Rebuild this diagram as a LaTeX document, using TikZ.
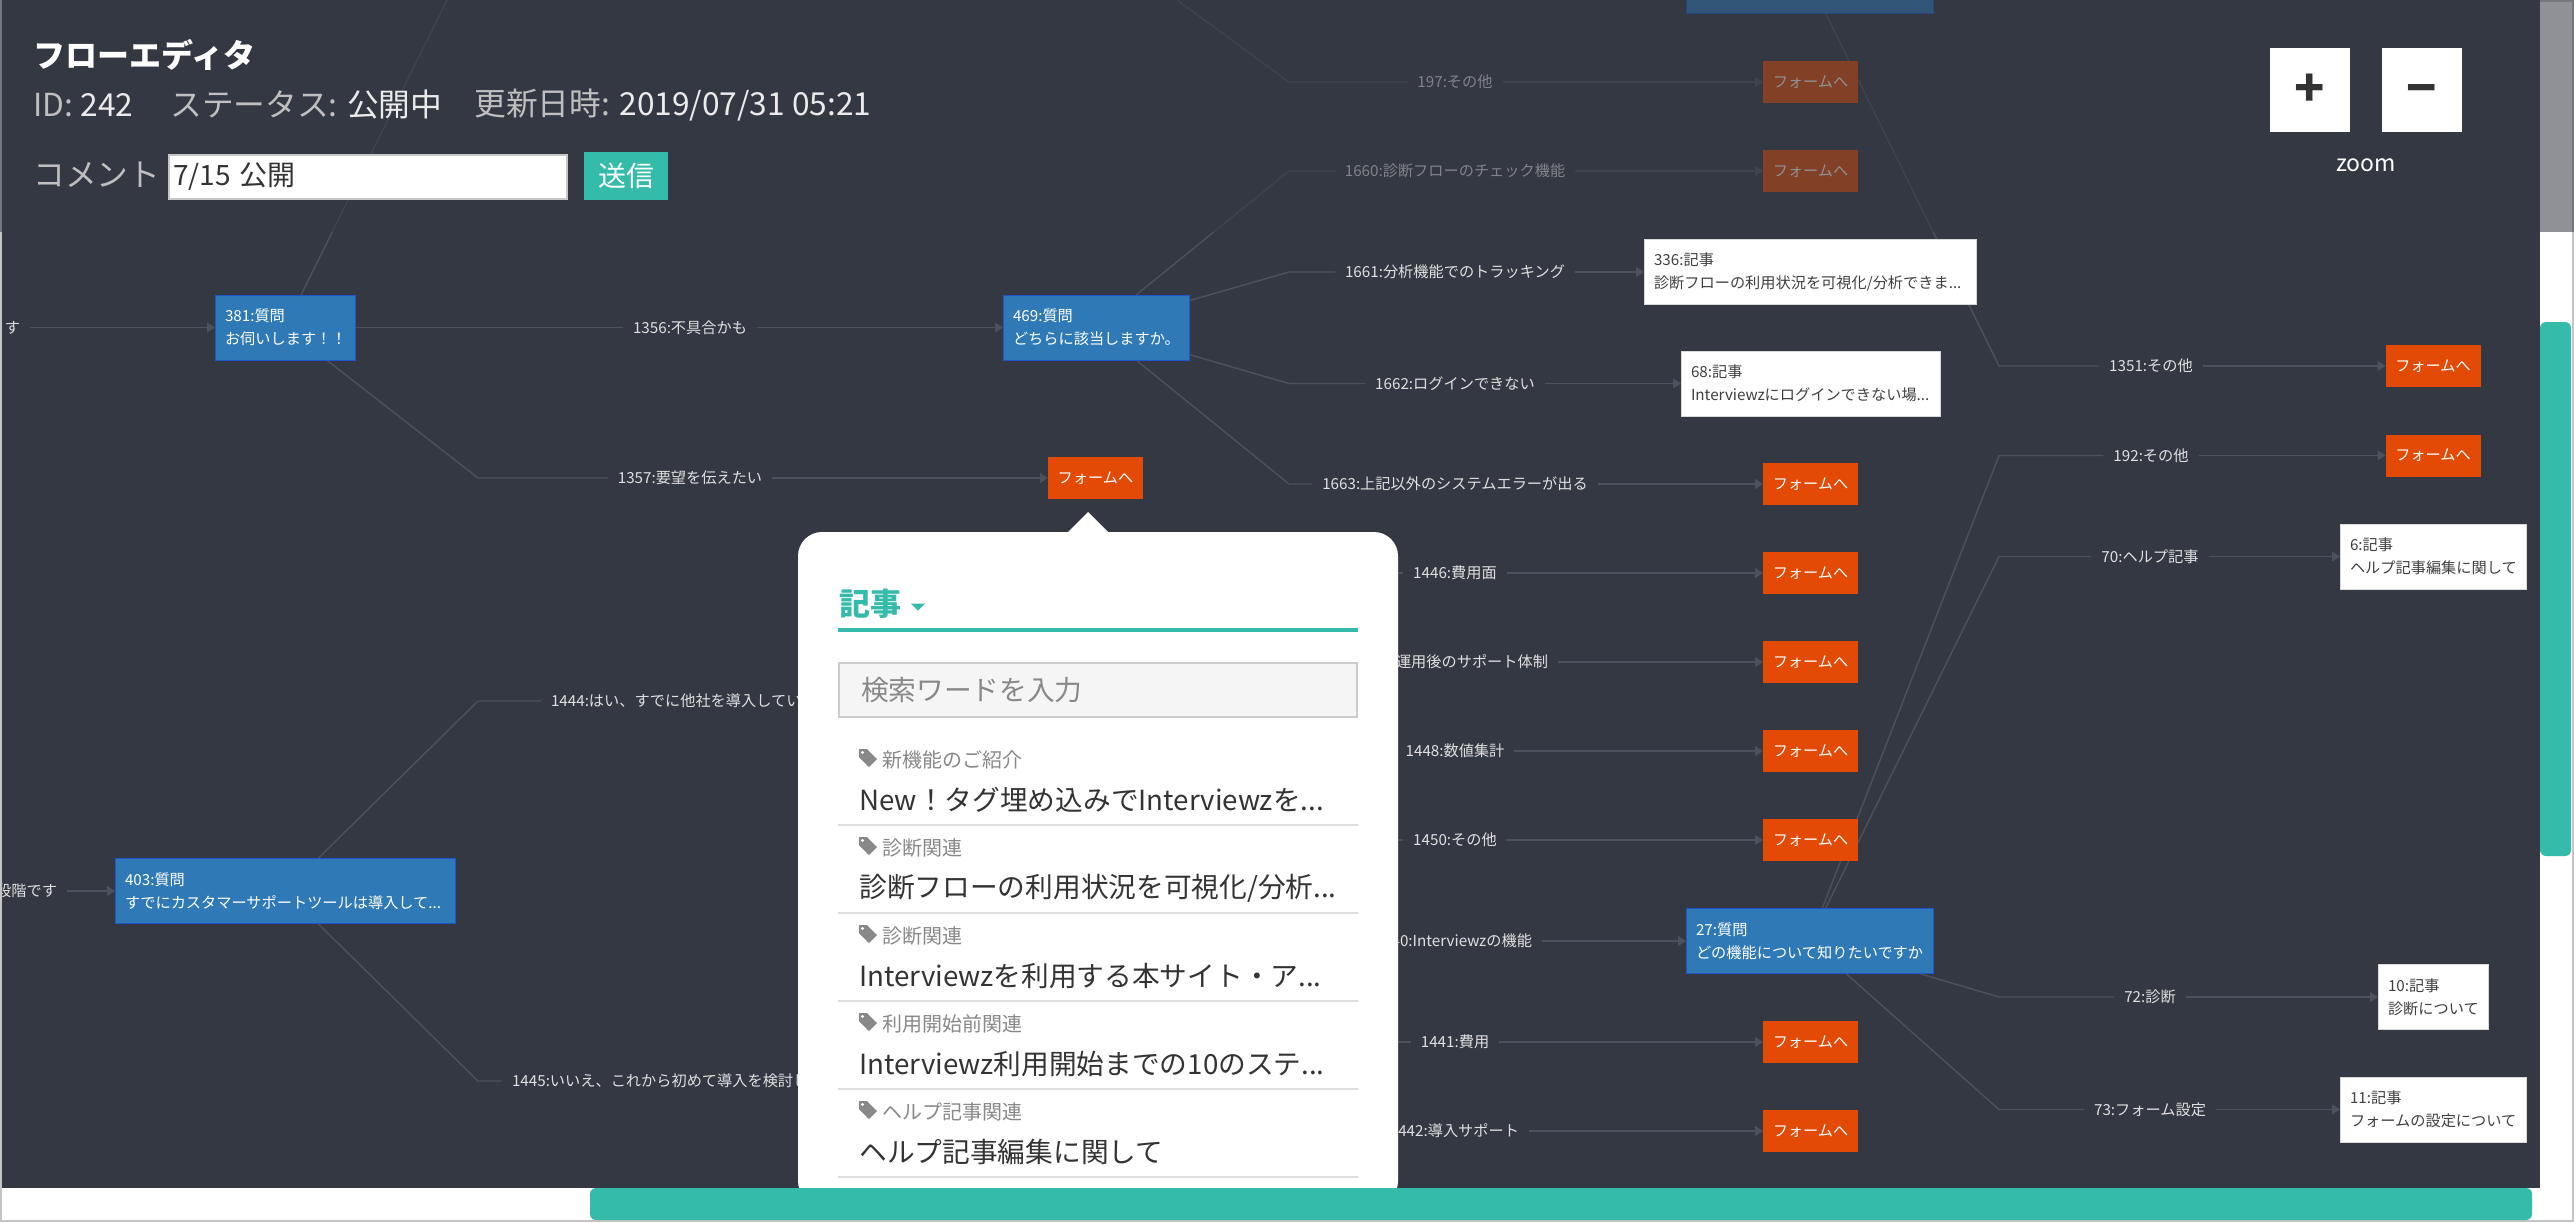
\documentclass[tikz,border=0pt]{standalone}
\usepackage{fontspec}
\setmainfont{Noto Sans CJK JP}
\usetikzlibrary{arrows.meta,backgrounds}
\definecolor{panelcol}{HTML}{343842}
\definecolor{linecol}{HTML}{4D515D}
\definecolor{tealcol}{HTML}{35BBAA}
\definecolor{bluecol}{HTML}{2E79B6}
\definecolor{orangecol}{HTML}{E34A05}
\definecolor{graycol}{HTML}{888888}
\tikzset{
    smallfont/.style={font=\fontsize{7.6}{11.5}\selectfont},
    flowline/.style={draw=linecol, line width=0.7pt},
    flowarrow/.style={flowline, -{Triangle[length=4pt,width=5pt]}},
    edgelabel/.style={smallfont, text=white!88!black, inner xsep=5pt, inner ysep=2pt, outer sep=0pt},
    qnode/.style={smallfont, fill=bluecol, draw=blue!30!bluecol, line width=0.4pt, text=white, align=left,
        inner xsep=5pt, inner ysep=0pt, outer sep=0pt, minimum height=32.5pt, text width=#1},
    anode/.style={smallfont, fill=white, draw=white!85!black, line width=0.4pt, text=black!75, align=left,
        inner xsep=5pt, inner ysep=0pt, outer sep=0pt, minimum height=32.5pt, text width=#1},
    fnode/.style={smallfont, fill=orangecol, text=white, inner sep=0pt, outer sep=0pt,
        minimum width=47.5pt, minimum height=21pt},
    headtext/.style={font=\fontsize{15.85}{18}\selectfont, inner sep=0pt, anchor=west},
    zoombtn/.style={fill=white, text=black!80, inner sep=0pt, minimum width=40pt, minimum height=42pt,
        font=\fontsize{25}{25}\bfseries\selectfont},
    cattext/.style={font=\fontsize{10}{12}\selectfont, text=graycol, inner sep=0pt, anchor=west},
    titletext/.style={font=\fontsize{13.85}{16}\selectfont, text=black!80, inner sep=0pt, anchor=west},
    sepline/.style={draw=white!87!black, line width=1pt},
    tagicon/.pic={
        \fill[graycol] (-8,-7) -- (0,-7) -- (10,3) -- (2,11) -- (-8,1) -- cycle;
        \fill[white] (-4.5,-3.5) circle (0.8pt);
    }
}
\begin{document}
\begin{tikzpicture}[x=0.5pt,y=-0.5pt]
    \useasboundingbox (0,0) rectangle (2574,1222);
    \begin{scope}[on background layer]
    \fill[white] (0,0) rectangle (2574,1222);
    \draw[white!77!black, line width=1pt] (1,1) rectangle (2573,1221);
    \fill[panelcol] (2,0) rectangle (2540,1188);
    \end{scope}

    \begin{scope}
    \clip (2,0) rectangle (2540,1188);

    % Draw question and article nodes
    \node[qnode=60pt] (q381) at (285,327.5) {381:質問\\お伺いします！！};
    \node[qnode=83pt] (q469) at (1096,327.5) {469:質問\\どちらに該当しますか。};
    \node[qnode=160pt] (q403) at (285,891) {403:質問\\すでにカスタマーサポートツールは導入して...};
    \node[qnode=113.5pt] (q27) at (1809.5,941) {27:質問\\どの機能について知りたいですか};
    \node[qnode=113.5pt] (qtop) at (1809.5,-19.5) {};
    \node[anode=156pt] (a336) at (1810,272) {336:記事\\診断フローの利用状況を可視化/分析できま...};
    \node[anode=119.5pt] (a68) at (1810.5,383.5) {68:記事\\Interviewzにログインできない場...};
    \node[anode=83pt] (a6) at (2433,556.5) {6:記事\\ヘルプ記事編集に関して};
    \node[anode=45pt] (a10) at (2433,997) {10:記事\\診断について};
    \node[anode=83pt] (a11) at (2433,1109.5) {11:記事\\フォームの設定について};

    % Draw form nodes
    \node[fnode] (f1357) at (1095.5,478) {フォームへ};
    \node[fnode] (f197) at (1810.5,82) {フォームへ};
    \node[fnode] (f1660) at (1810.5,171) {フォームへ};
    \node[fnode] (f1663) at (1810.5,484) {フォームへ};
    \node[fnode] (f1446) at (1810.5,573) {フォームへ};
    \node[fnode] (f1447) at (1810.5,662) {フォームへ};
    \node[fnode] (f1448) at (1810.5,751) {フォームへ};
    \node[fnode] (f1450) at (1810.5,840) {フォームへ};
    \node[fnode] (f1441) at (1810.5,1042) {フォームへ};
    \node[fnode] (f1442) at (1810.5,1131) {フォームへ};
    \node[fnode] (f1351) at (2433,366) {フォームへ};
    \node[fnode] (f192) at (2433,455.5) {フォームへ};

    % Draw edge labels
    \node[edgelabel, anchor=east] (lsu) at (30,327.5) {す};
    \node[edgelabel, anchor=east] (ldan) at (67,891) {段階です};
    \node[edgelabel] (l1356) at (690,327.5) {1356:不具合かも};
    \node[edgelabel] (l1357) at (690,478) {1357:要望を伝えたい};
    \node[edgelabel, anchor=west] (l1444) at (541,701) {1444:はい、すでに他社を導入してい};
    \node[edgelabel, anchor=west] (l1445) at (502,1081) {1445:いいえ、これから初めて導入を検討し};
    \node[edgelabel] (l197) at (1455,82) {197:その他};
    \node[edgelabel] (l1660) at (1455,171) {1660:診断フローのチェック機能};
    \node[edgelabel] (l1661) at (1455,272) {1661:分析機能でのトラッキング};
    \node[edgelabel] (l1662) at (1455,383.5) {1662:ログインできない};
    \node[edgelabel] (l1663) at (1455,484) {1663:上記以外のシステムエラーが出る};
    \node[edgelabel] (l1446) at (1455,573) {1446:費用面};
    \node[edgelabel, anchor=east] (l1447) at (1558,662) {運用後のサポート体制};
    \node[edgelabel] (l1448) at (1455,751) {1448:数値集計};
    \node[edgelabel] (l1450) at (1455,840) {1450:その他};
    \node[edgelabel, anchor=east] (l1440) at (1542,941) {40:Interviewzの機能};
    \node[edgelabel] (l1441) at (1455,1042) {1441:費用};
    \node[edgelabel, anchor=east] (l1442) at (1529,1131) {442:導入サポート};
    \node[edgelabel] (l1351) at (2151,366) {1351:その他};
    \node[edgelabel] (l192) at (2151,455.5) {192:その他};
    \node[edgelabel] (l70) at (2150,556.5) {70:ヘルプ記事};
    \node[edgelabel] (l72) at (2150,997) {72:診断};
    \node[edgelabel] (l73) at (2150,1109.5) {73:フォーム設定};
    \end{scope}

    % Elbow points
    \coordinate (b381) at (447,0);
    \coordinate (b197) at (1177,0);
    \coordinate (b1357) at (478,478);
    \coordinate (b1444) at (478,701);
    \coordinate (b1445) at (478,1081);
    \coordinate (b1660) at (1289,171);
    \coordinate (b1661) at (1289,272);
    \coordinate (b1662) at (1289,383.5);
    \coordinate (b1663) at (1289,484);
    \coordinate (b197e) at (1289,82);
    \coordinate (b1446) at (1289,573);
    \coordinate (b1450) at (1289,840);
    \coordinate (b1441) at (1289,1042);
    \coordinate (b1351) at (1999,366);
    \coordinate (b192) at (1999,455.5);
    \coordinate (b70) at (1999,556.5);
    \coordinate (b72) at (1999,997);
    \coordinate (b73) at (1999,1109.5);

    % Draw edges
    \begin{scope}[on background layer]
    \clip (2,0) rectangle (2540,1188);
    \draw[flowarrow] (lsu.east) -- (q381.west);
    \draw[flowarrow] (ldan.east) -- (q403.west);
    \draw[flowline] (q381) -- (b381);
    \draw[flowline] (q381.east) -- (l1356.west);
    \draw[flowarrow] (l1356.east) -- (q469.west);
    \draw[flowline] (q381) -- (b1357) -- (l1357.west);
    \draw[flowarrow] (l1357.east) -- (f1357.west);
    \draw[flowline] (q403) -- (b1444) -- (l1444.west);
    \draw[flowline] (q403) -- (b1445) -- (l1445.west);
    \draw[flowline] (b197) -- (b197e) -- (l197.west);
    \draw[flowarrow] (l197.east) -- (f197.west);
    \draw[flowline] (q469) -- (b1660) -- (l1660.west);
    \draw[flowarrow] (l1660.east) -- (f1660.west);
    \draw[flowline] (q469) -- (b1661) -- (l1661.west);
    \draw[flowarrow] (l1661.east) -- (a336.west);
    \draw[flowline] (q469) -- (b1662) -- (l1662.west);
    \draw[flowarrow] (l1662.east) -- (a68.west);
    \draw[flowline] (q469) -- (b1663) -- (l1663.west);
    \draw[flowarrow] (l1663.east) -- (f1663.west);
    \draw[flowline] (b1446) -- (l1446.west);
    \draw[flowarrow] (l1446.east) -- (f1446.west);
    \draw[flowarrow] (l1447.east) -- (f1447.west);
    \draw[flowarrow] (l1448.east) -- (f1448.west);
    \draw[flowline] (b1450) -- (l1450.west);
    \draw[flowarrow] (l1450.east) -- (f1450.west);
    \draw[flowarrow] (l1440.east) -- (q27.west);
    \draw[flowline] (b1441) -- (l1441.west);
    \draw[flowarrow] (l1441.east) -- (f1441.west);
    \draw[flowarrow] (l1442.east) -- (f1442.west);
    \draw[flowline] (qtop) -- (b1351) -- (l1351.west);
    \draw[flowarrow] (l1351.east) -- (f1351.west);
    \draw[flowline] (q27) -- (b192) -- (l192.west);
    \draw[flowarrow] (l192.east) -- (f192.west);
    \draw[flowline] (q27) -- (b70) -- (l70.west);
    \draw[flowarrow] (l70.east) -- (a6.west);
    \draw[flowline] (q27) -- (b72) -- (l72.west);
    \draw[flowarrow] (l72.east) -- (a10.west);
    \draw[flowline] (q27) -- (b73) -- (l73.west);
    \draw[flowarrow] (l73.east) -- (a11.west);
    \end{scope}

    % Header, laid over the flow
    \fill[panelcol, opacity=0.55] (0,0) rectangle (2574,232);
    \node[font=\fontsize{16}{18}\bfseries\selectfont, text=white, inner sep=0pt, anchor=west] (title) at (33,55) {フローエディタ};
    \node[headtext, text=white!75!black] (idtext) at (33,105) {ID: \textcolor{white!92!black}{242}};
    \node[headtext, text=white!75!black] (statustext) at (170,105) {ステータス: \textcolor{white!92!black}{公開中}};
    \node[headtext, text=white!75!black] (datetext) at (474,105) {更新日時: \textcolor{white!92!black}{2019/07/31 05:21}};
    \node[headtext, text=white!75!black] (commenttext) at (33,175) {コメント};
    \node[draw=white!78!black, line width=1pt, fill=white, text=black!80, font=\fontsize{14}{16}\selectfont,
        minimum width=199pt, minimum height=22pt, inner xsep=2pt, inner ysep=0pt, text width=195pt, align=left] (commentbox) at (368,177) {7/15 公開};
    \node[fill=tealcol, text=white, font=\fontsize{14}{16}\selectfont, inner sep=0pt,
        minimum width=42pt, minimum height=24pt] (sendbtn) at (626,176) {送信};

    % Zoom buttons
    \node[zoombtn] (zoomin) at (2310,90) {+};
    \node[zoombtn] (zoomout) at (2422,90) {\vphantom{+}−};
    \node[font=\fontsize{11.5}{14}\selectfont, text=white, inner sep=0pt] (zoomtext) at (2366,165) {zoom};

    % Popover
    \fill[white] (1068,532) -- (1088,512) -- (1108,532) -- cycle;
    \fill[white, rounded corners=12pt] (798,1205) -- (798,532) -- (1398,532) -- (1398,1205) -- cycle;
    \node[font=\fontsize{15.5}{18}\bfseries\selectfont, text=tealcol, inner sep=0pt, anchor=west] (poptitle) at (839,604) {記事};
    \fill[tealcol] (911,603.5) -- (925,603.5) -- (918,610.5) -- cycle;
    \fill[tealcol] (838,628) rectangle (1358,632);
    \node[draw=white!80!black, line width=1pt, fill=white!96!black, text=graycol, font=\fontsize{13.85}{16}\selectfont,
        minimum width=259pt, minimum height=27pt, inner xsep=11pt, inner ysep=0pt, text width=237pt, align=left] (searchbox) at (1098,690) {検索ワードを入力};

    % Article list
    \pic at (867,756) {tagicon};
    \node[cattext] (c1) at (882,760) {新機能のご紹介};
    \node[titletext] (t1) at (859,800) {New！タグ埋め込みでInterviewzを...};
    \draw[sepline] (838,824.5) -- (1358,824.5);
    \pic at (867,844) {tagicon};
    \node[cattext] (c2) at (882,848) {診断関連};
    \node[titletext] (t2) at (859,888) {診断フローの利用状況を可視化/分析...};
    \draw[sepline] (838,912.5) -- (1358,912.5);
    \pic at (867,932) {tagicon};
    \node[cattext] (c3) at (882,936) {診断関連};
    \node[titletext] (t3) at (859,976) {Interviewzを利用する本サイト・ア...};
    \draw[sepline] (838,1000.5) -- (1358,1000.5);
    \pic at (867,1020) {tagicon};
    \node[cattext] (c4) at (882,1024) {利用開始前関連};
    \node[titletext] (t4) at (859,1064) {Interviewz利用開始までの10のステ...};
    \draw[sepline] (838,1088.5) -- (1358,1088.5);
    \pic at (867,1108) {tagicon};
    \node[cattext] (c5) at (882,1112) {ヘルプ記事関連};
    \node[titletext] (t5) at (859,1152) {ヘルプ記事編集に関して};
    \draw[sepline] (838,1176.5) -- (1358,1176.5);

    % Scroll bars
    \fill[white] (590,1188) rectangle (2540,1220);
    \fill[tealcol, rounded corners=3pt] (590,1188) rectangle (2532,1220);
    \fill[tealcol, rounded corners=3pt] (2540,322) rectangle (2571,856);
\end{tikzpicture}
\end{document}
